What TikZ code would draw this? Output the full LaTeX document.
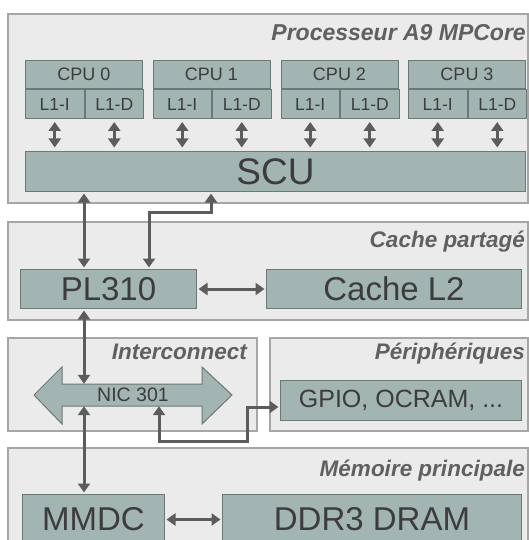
\documentclass[tikz,border=0pt]{standalone}
\usepackage{fontspec}
\setmainfont{Liberation Sans}
\usetikzlibrary{arrows.meta,calc}
\definecolor{zonefill}{HTML}{EBEBEB}
\definecolor{zoneline}{HTML}{A6A6A6}
\definecolor{blocfill}{HTML}{A3B5B2}
\definecolor{blocline}{HTML}{6B7876}
\definecolor{texte}{HTML}{3C3C3C}
\definecolor{titre}{HTML}{606060}
\definecolor{fleche}{HTML}{5C5C5C}
\newcommand{\taille}[1]{\fontsize{#1}{#1}\selectfont}

\begin{document}
\begin{tikzpicture}[x=1pt,y=-1pt,
		zone/.style={draw=zoneline,fill=zonefill,line width=1.2pt,inner sep=0pt},
		zonetitle/.style={anchor=base east,inner sep=0pt,text=titre,font=\taille{22.5}\bfseries\itshape},
		bloc/.style={draw=blocline,fill=blocfill,line width=1pt,inner sep=0pt,text=texte,anchor=north west},
		fl/.style={draw=fleche,line width=3pt,{Triangle[length=9pt,width=12pt]}-{Triangle[length=9pt,width=12pt]},shorten <=1.5pt,shorten >=1.5pt}]
		\useasboundingbox (0,0) rectangle (529,540);
		% zones
		\node[zone,minimum width=520pt,minimum height=189pt] (proczone) at (268,108.5) {};
		\node[zone,minimum width=520pt,minimum height=98pt] (cachezone) at (268,271) {};
		\node[zone,minimum width=249pt,minimum height=93pt] (nzone) at (132.5,384.5) {};
		\node[zone,minimum width=258pt,minimum height=93pt] (perzone) at (399,384.5) {};
		\node[zone,minimum width=520pt,minimum height=152pt] (memzone) at (268,524) {};
		\node[zonetitle,font=\taille{23}\bfseries\itshape] (tproc) at (526,41) {Processeur A9 MPCore};
		\node[zonetitle] (tcache) at (525,247) {Cache partagé};
		\node[zonetitle] (tnic) at (247,359) {Interconnect};
		\node[zonetitle] (tper) at (525,359) {Périphériques};
		\node[zonetitle] (tmem) at (525,476) {Mémoire principale};
		% processeur
		\foreach \i/\x in {0/25,1/152.5,2/280.5,3/408}{
			\node[bloc,minimum width=117pt,minimum height=28pt,font=\taille{18}] (cpu\i) at (\x,60) {CPU \i};
			\node[bloc,minimum width=58.5pt,minimum height=29pt,font=\taille{17.5}] (l1i\i) at (cpu\i.south west) {L1-I};
			\node[bloc,minimum width=58.5pt,minimum height=29pt,font=\taille{17.5}] (l1d\i) at (l1i\i.north east) {L1-D};
		}
		\node[bloc,minimum width=500pt,minimum height=40pt,font=\taille{37}] (scu) at (25,151) {SCU};
		\foreach \i in {0,...,3}{
			\draw[fl,shorten <=3pt,shorten >=3.5pt] (l1i\i.south) -- (l1i\i.south |- scu.north);
			\draw[fl,shorten <=3pt,shorten >=3.5pt] (l1d\i.south) -- (l1d\i.south |- scu.north);
		}
		% cache
		\node[bloc,minimum width=176pt,minimum height=39pt,font=\taille{33}] (pl) at (20,269) {PL310};
		\node[bloc,minimum width=255pt,minimum height=39pt,font=\taille{33}] (l2) at (266,269) {Cache L2};
		% interconnect
		\draw[draw=blocline,fill=blocfill,line width=1pt] (62,384) -- (62,367) -- (34,395) -- (62,424) -- (62,406)
			-- (202,406) -- (202,424) -- (232,395) -- (202,367) -- (202,384) -- cycle;
		\node[inner sep=0pt,minimum width=140pt,minimum height=22pt,text=texte,font=\taille{19.5}] (nic) at (133,395) {NIC 301};
		\node[bloc,minimum width=241pt,minimum height=40pt,font=\taille{25}] (gpio) at (280,380) {GPIO, OCRAM, ...};
		% memoire
		\node[bloc,minimum width=142pt,minimum height=50pt,font=\taille{33}] (mmdc) at (22,494) {MMDC};
		\node[bloc,minimum width=299pt,minimum height=50pt,font=\taille{33}] (ddr) at (222,494) {DDR3 DRAM};
		% liaisons
		\coordinate (bus) at (84,0);
		\coordinate (pl2) at (149,212);
		\coordinate (scu2) at (211,212);
		\coordinate (g1) at (159,441);
		\coordinate (g2) at (247,441);
		\coordinate (g3) at (247,407);
		\draw[fl] (scu.south -| bus) -- (pl.north -| bus);
		\draw[fl] (pl.north -| pl2) -- (pl2) -- (scu2) -- (scu.south -| scu2);
		\draw[fl] (pl.east) -- (l2.west);
		\draw[fl,shorten >=0pt] (pl.south -| bus) -- (nic.north -| bus);
		\draw[fl,shorten <=0pt] (nic.south -| bus) -- (mmdc.north -| bus);
		\draw[fl,shorten <=0pt] (nic.south -| g1) -- (g1) -- (g2) -- (g3) -- (g3 -| gpio.west);
		\draw[fl] (mmdc.east) -- (ddr.west);
	\end{tikzpicture}
\end{document}
